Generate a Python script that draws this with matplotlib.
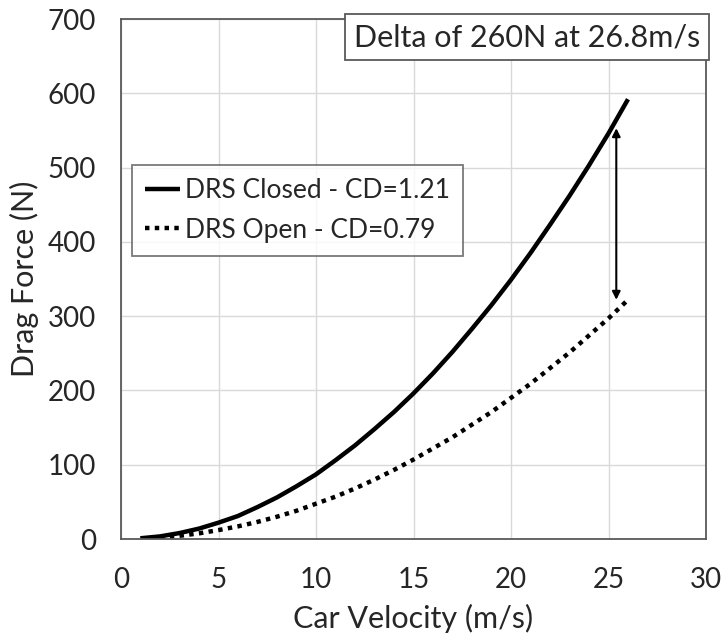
import matplotlib
matplotlib.use("Agg")
import matplotlib.pyplot as plt

velocity = [1, 2, 3, 4, 5, 6, 7, 8, 9, 10, 11, 12, 13, 14, 15, 16, 17, 18, 19, 20, 21, 22, 23, 24, 25, 26]
drs_closed = [1, 3.5, 8, 14, 22, 31, 43, 56, 71, 87, 106, 126, 148, 171, 196, 223, 252, 283, 315, 349, 385, 423, 462, 503, 546, 592]
drs_open = [0.5, 1.9, 4.3, 7.6, 12, 17, 23, 30, 38, 47.5, 57, 68, 80, 93, 107, 122, 137, 154, 171, 190, 209, 230, 251, 274, 297, 322]
closed_label = "DRS Closed - CD=1.21"
open_label = "DRS Open - CD=0.79"
annotation_text = "Delta of 260N at 26.8m/s"
arrow_x = 25.4
arrow_top = 553
arrow_bottom = 322
x_ticks = [0, 5, 10, 15, 20, 25, 30]
y_ticks = [0, 100, 200, 300, 400, 500, 600, 700]

plt.rcParams['font.family'] = ['Lato', 'DejaVu Sans']
text_color = '#262626'

fig = plt.figure(figsize=(7.23, 6.4), dpi=100)
ax = fig.add_axes([121/723, 1-539/640, (706-121)/723, (539-19)/640])

ax.plot(velocity, drs_closed, color='black', lw=3.2, solid_capstyle='butt', label=closed_label)
ax.plot(velocity, drs_open, color='black', lw=3.2, linestyle=(0, (1, 1.2)), dash_capstyle='butt', label=open_label)

ax.annotate('', xy=(arrow_x, arrow_bottom), xytext=(arrow_x, arrow_top),
            arrowprops=dict(arrowstyle='<|-|>', color='black', lw=1.5,
                            mutation_scale=12, shrinkA=0, shrinkB=0))

ax.set_xlim(0, 30)
ax.set_ylim(0, 700)
ax.set_xticks(x_ticks)
ax.set_yticks(y_ticks)
ax.grid(True, color='#d9d9d9', lw=1)
ax.set_axisbelow(True)
ax.tick_params(length=0, labelsize=20, colors=text_color)
ax.tick_params(axis='x', pad=20)
ax.tick_params(axis='y', pad=18)
for s in ax.spines.values():
    s.set_color('#595959')
    s.set_linewidth(1.3)

ax.set_xlabel("Car Velocity (m/s)", fontsize=22, color=text_color, labelpad=8)
ax.set_ylabel("Drag Force (N)", fontsize=22, color=text_color, labelpad=6)

leg = ax.legend(loc='upper left', bbox_to_anchor=((132-121)/585, (539-165)/520),
                fontsize=19, frameon=True, fancybox=False, handlelength=1.3,
                handletextpad=0.2, borderpad=0.5, labelspacing=0.55, borderaxespad=0)
leg.get_frame().set_edgecolor('#595959')
leg.get_frame().set_linewidth(1.3)
for t in leg.get_texts():
    t.set_color(text_color)

ax.text(0.99, 0.992, annotation_text, transform=ax.transAxes, ha='right', va='top',
        fontsize=22, color=text_color,
        bbox=dict(boxstyle='square,pad=0.3', facecolor='white', edgecolor='#595959', lw=1.3))

fig.savefig('out.png', dpi=100)
